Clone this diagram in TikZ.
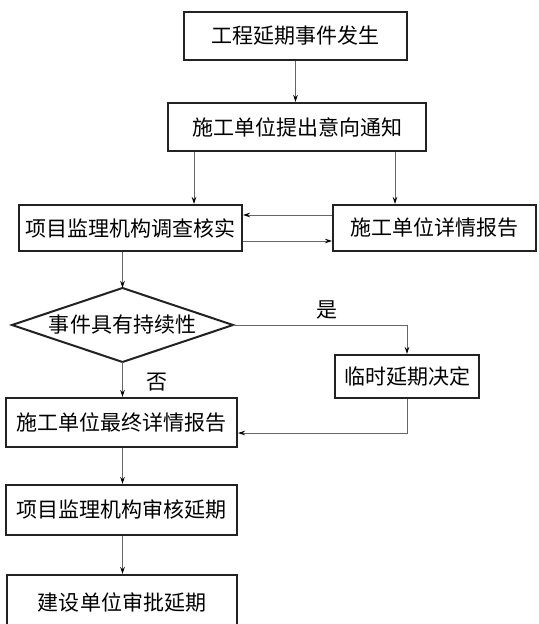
\documentclass[tikz,border=0pt]{standalone}
\usepackage{fontspec}
\setmainfont{Noto Sans CJK SC}
\usetikzlibrary{arrows.meta,calc}
\definecolor{boxline}{HTML}{222222}
\definecolor{conn}{HTML}{666666}
\tikzset{
  stepbox/.style={draw=boxline, line width=2bp, fill=white, inner sep=0pt,
    font=\fontsize{21bp}{25bp}\selectfont, text=black},
  conline/.style={draw=conn, line width=0.9bp},
  arr/.style={conline, -{Stealth[length=7bp,width=4.5bp,color=black]}},
  lbl/.style={font=\fontsize{21bp}{25bp}\selectfont, inner sep=0pt}
}
\begin{document}
\begin{tikzpicture}[x=1bp,y=-1bp]
\useasboundingbox (0,0) rectangle (539,624);
\clip (0,0) rectangle (539,624);
\fill[white] (0,0) rectangle (539,624);

\node[stepbox, minimum width=223bp, minimum height=48bp] (b1) at (295.5,36) {工程延期事件发生};
\node[stepbox, minimum width=258bp, minimum height=48bp] (b2) at (297,127) {施工单位提出意向通知};
\node[stepbox, minimum width=223bp, minimum height=46bp] (b3) at (130.5,228) {项目监理机构调查核实};
\node[stepbox, minimum width=203bp, minimum height=46bp] (b4) at (434.5,228) {施工单位详情报告};

% decision diamond
\coordinate (dtop) at (122.5,288);
\coordinate (dbot) at (122.5,362);
\coordinate (dleft) at (12,325);
\coordinate (dright) at (233,325);
\draw[draw=boxline, line width=2bp, line join=miter] (dtop) -- (dright) -- (dbot) -- (dleft) -- cycle;
\node[lbl] (d) at (122.5,325) {事件具有持续性};

\node[stepbox, minimum width=144bp, minimum height=43bp] (b5) at (407,376.5) {临时延期决定};
\node[stepbox, minimum width=231bp, minimum height=49bp] (b6) at (121.5,422.5) {施工单位最终详情报告};
\node[stepbox, minimum width=231bp, minimum height=50bp] (b7) at (121.5,510) {项目监理机构审核延期};
\node[stepbox, minimum width=230bp, minimum height=56bp] (b8) at (122,603) {建设单位审批延期};

% helper coordinates
\coordinate (xa) at (194,0);
\coordinate (xb) at (395,0);
\coordinate (ya) at (0,215);
\coordinate (yb) at (0,241);
\coordinate (xc) at (122.5,0);
\coordinate (yc) at (0,433);

% connectors
\draw[arr] (b1.south -| b1) -- (b2.north -| b1);
\draw[arr] (b2.south -| xa) -- (b3.north -| xa);
\draw[arr] (b2.south -| xb) -- (b4.north -| xb);
\draw[arr] (b4.west |- ya) -- (b3.east |- ya);
\draw[arr] (b3.east |- yb) -- (b4.west |- yb);
\draw[arr] (b3.south -| xc) -- (dtop);
\draw[arr] (dright) -| (b5.north);
\draw[arr] (dbot) -- (b6.north -| xc);
\draw[arr] (b5.south) |- (b6.east |- yc);
\draw[arr] (b6.south -| xc) -- (b7.north -| xc);
\draw[arr] (b7.south -| xc) -- (b8.north -| xc);

\node[lbl] (yes) at (327,310) {是};
\node[lbl] (no) at (157,382) {否};
\end{tikzpicture}
\end{document}
